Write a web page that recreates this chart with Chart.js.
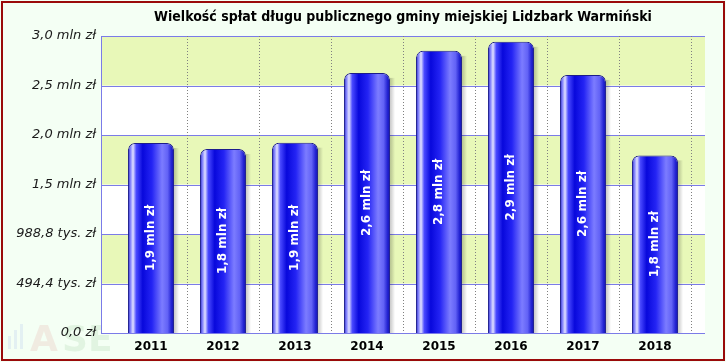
<!DOCTYPE html>
<html>
<head>
<meta charset="utf-8">
<script src="https://cdn.jsdelivr.net/npm/chart.js@4.4.0/dist/chart.umd.min.js"></script>
<style>
  html, body { margin: 0; padding: 0; background: #f4fff4; }
  #wrap { width: 726px; height: 362px; }
</style>
</head>
<body>
<div id="wrap"><canvas id="chart" width="726" height="362"></canvas></div>
<script>
// data (values in tys. zł)
const title = 'Wielkość spłat długu publicznego gminy miejskiej Lidzbark Warmiński';
const years = ['2011', '2012', '2013', '2014', '2015', '2016', '2017', '2018'];
const values = [1898, 1838, 1901, 2598, 2818, 2908, 2578, 1774];
const barLabels = ['1,9 mln zł', '1,8 mln zł', '1,9 mln zł', '2,6 mln zł', '2,8 mln zł', '2,9 mln zł', '2,6 mln zł', '1,8 mln zł'];
const yTicks = [0, 494.4, 988.8, 1483.2, 1977.6, 2472, 2966.4];
const yTickLabels = ['0,0 zł', '494,4 tys. zł', '988,8 tys. zł', '1,5 mln zł', '2,0 mln zł', '2,5 mln zł', '3,0 mln zł'];

const lineColor = '#7b7be8';
const bandColor = '#e8f8b8';
const extra = 14; // plot frame sticks out past the category range

// background, bands, horizontal lines
const backdrop = {
  id: 'backdrop',
  beforeDraw(chart) {
    const ctx = chart.ctx;
    const area = chart.chartArea;
    const y = chart.scales.y;
    const left = area.left - extra, right = area.right + extra;
    ctx.save();
    ctx.fillStyle = '#f4fff4';
    ctx.fillRect(0, 0, chart.width, chart.height);
    ctx.strokeStyle = '#9a0a0a';
    ctx.lineWidth = 2;
    ctx.strokeRect(2, 2, chart.width - 4, chart.height - 4);

    // faint logo
    ctx.globalAlpha = 0.16;
    ctx.fillStyle = '#8fa4ee';
    ctx.fillRect(8, 336, 3, 13);
    ctx.fillRect(14, 330, 3, 19);
    ctx.fillRect(20, 324, 3, 25);
    ctx.font = 'bold 36px "DejaVu Sans"';
    ctx.textBaseline = 'alphabetic';
    ctx.fillStyle = '#e08080';
    ctx.fillText('A', 30, 351);
    ctx.fillStyle = '#80b880';
    ctx.fillText('SE', 62, 351);
    ctx.globalAlpha = 1;

    for (let i = 0; i < yTicks.length - 1; i++) {
      const yb = y.getPixelForValue(yTicks[i]);
      const yt = y.getPixelForValue(yTicks[i + 1]);
      ctx.fillStyle = (yTicks.length - 2 - i) % 2 === 0 ? bandColor : '#ffffff';
      ctx.fillRect(left, yt, right - left, yb - yt);
    }
    ctx.strokeStyle = lineColor;
    ctx.lineWidth = 1;
    yTicks.forEach(v => {
      const py = Math.round(y.getPixelForValue(v)) + 0.5;
      ctx.beginPath();
      ctx.moveTo(left, py);
      ctx.lineTo(right, py);
      ctx.stroke();
    });
    ctx.beginPath();
    ctx.moveTo(Math.round(left) + 0.5, y.getPixelForValue(yTicks[yTicks.length - 1]));
    ctx.lineTo(Math.round(left) + 0.5, y.getPixelForValue(0) + 1);
    ctx.stroke();

    // title over the plot frame
    ctx.fillStyle = '#000';
    ctx.font = 'bold 14px "DejaVu Sans Condensed", "DejaVu Sans"';
    ctx.textAlign = 'center';
    ctx.textBaseline = 'middle';
    ctx.fillText(title, (left + right) / 2, 17);
    ctx.restore();
  }
};

// glossy gradient + shadow on the bars
const glossy = {
  id: 'glossy',
  beforeDatasetsDraw(chart) {
    const ctx = chart.ctx;
    chart.getDatasetMeta(0).data.forEach(bar => {
      const x0 = bar.x - bar.width / 2, x1 = bar.x + bar.width / 2;
      const g = ctx.createLinearGradient(x0, 0, x1, 0);
      g.addColorStop(0, '#2a2ac8');
      g.addColorStop(0.06, '#8c8cff');
      g.addColorStop(0.11, '#e2e2ff');
      g.addColorStop(0.18, '#4a4aff');
      g.addColorStop(0.32, '#0808dc');
      g.addColorStop(0.52, '#2424f4');
      g.addColorStop(0.74, '#7c7cff');
      g.addColorStop(0.86, '#6262f6');
      g.addColorStop(0.95, '#2020d0');
      g.addColorStop(1, '#1818a8');
      bar.options = Object.assign({}, bar.options, { backgroundColor: g });

      const sg = ctx.createLinearGradient(x1, 0, x1 + 5, 0);
      sg.addColorStop(0, 'rgba(0,0,0,0.22)');
      sg.addColorStop(1, 'rgba(0,0,0,0)');
      ctx.save();
      ctx.fillStyle = sg;
      ctx.fillRect(x1, bar.y + 5, 5, bar.base - bar.y - 5);
      ctx.restore();
    });
  },
  afterDatasetsDraw(chart) {
    const ctx = chart.ctx;
    ctx.save();
    ctx.fillStyle = '#ffffff';
    ctx.font = 'bold 12px "DejaVu Sans"';
    ctx.textAlign = 'center';
    ctx.textBaseline = 'middle';
    chart.getDatasetMeta(0).data.forEach((bar, i) => {
      ctx.save();
      ctx.translate(bar.x, (bar.y + bar.base) / 2);
      ctx.rotate(-Math.PI / 2);
      ctx.fillText(barLabels[i], 0, 0);
      ctx.restore();
    });
    ctx.restore();
  }
};

new Chart(document.getElementById('chart'), {
  type: 'bar',
  data: {
    labels: years,
    datasets: [{
      data: values,
      backgroundColor: '#2020f0',
      borderColor: '#1c1c8c',
      borderWidth: 1,
      borderRadius: { topLeft: 7, topRight: 7 },
      barPercentage: 0.64,
      categoryPercentage: 1
    }]
  },
  options: {
    responsive: false,
    animation: false,
    devicePixelRatio: 1,
    layout: { padding: { top: 36, right: 35, left: 0, bottom: 0 } },
    plugins: {
      legend: { display: false },
      title: { display: false },
      tooltip: { enabled: false }
    },
    scales: {
      x: {
        offset: true,
        grid: {
          offset: true,
          drawTicks: false,
          color: c => (c.index === 0 || c.index === years.length) ? 'rgba(0,0,0,0)' : '#808080'
        },
        border: { display: false, dash: [1, 2] },
        ticks: {
          color: '#000',
          padding: 7,
          font: { family: '"DejaVu Sans"', size: 12, weight: 'bold' }
        },
        afterFit: s => { s.height = 29; }
      },
      y: {
        min: 0,
        max: yTicks[yTicks.length - 1],
        afterBuildTicks: s => { s.ticks = yTicks.map(v => ({ value: v })); },
        grid: { display: false, drawTicks: false },
        border: { display: false },
        ticks: {
          color: '#1a1a1a',
          padding: 19,
          font: { family: '"DejaVu Sans"', size: 13, style: 'italic' },
          callback: (v, i) => yTickLabels[i]
        },
        afterFit: s => { s.width = 115; }
      }
    }
  },
  plugins: [backdrop, glossy]
});
</script>
</body>
</html>
